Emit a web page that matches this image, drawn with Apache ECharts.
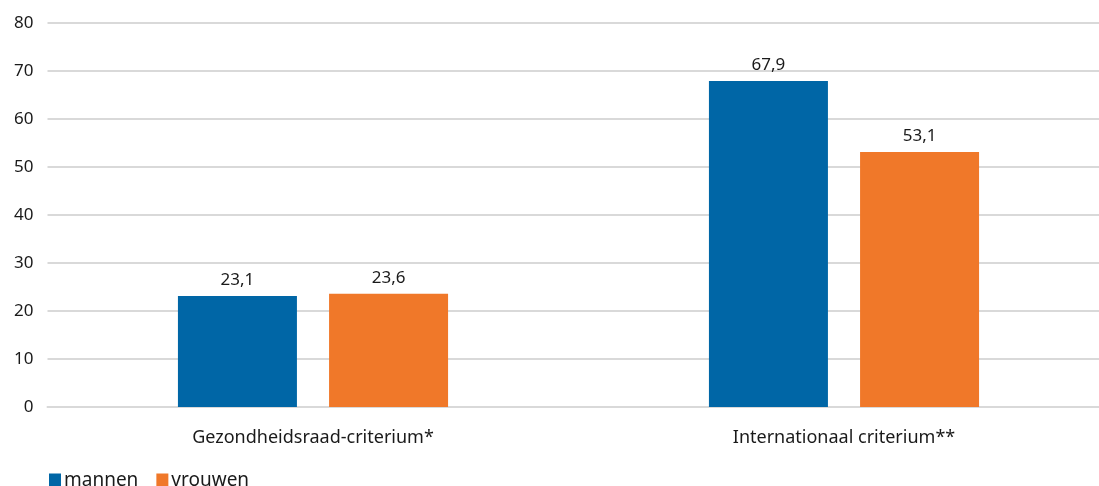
<!DOCTYPE html>
<html><head><meta charset="utf-8">
<script src="https://cdn.jsdelivr.net/npm/echarts@6/dist/echarts.min.js"></script>
<style>html,body{margin:0;padding:0;background:#fff;overflow:hidden;width:1099px;height:486px}#c{width:1130px;height:486px}</style>
</head><body><div id="c"></div>
<script>
const categories = ['Gezondheidsraad-criterium*', 'Internationaal criterium**'];
const mannen = [23.1, 67.9];
const vrouwen = [23.6, 53.1];
const seriesNames = ['mannen', 'vrouwen'];
const yTicks = [0, 10, 20, 30, 40, 50, 60, 70, 80];

const FONT = 'Noto Sans';
const chart = echarts.init(document.getElementById('c'), null, {renderer: 'canvas'});
const lbl = {show: true, position: 'top', distance: 7, color: '#1a1a1a', fontSize: 17, fontFamily: FONT,
  formatter: p => String(p.value).replace('.', ',')};
chart.setOption({
  animation: false,
  textStyle: {fontFamily: FONT},
  grid: {left: 47.5, top: 23, width: 1062, height: 384, containLabel: false},
  legend: {
    left: 44, top: 466, itemWidth: 12, itemHeight: 14, itemGap: 18, icon: 'rect',
    textStyle: {fontSize: 19, color: '#1a1a1a', fontFamily: FONT, padding: [0, 0, 0, -2]},
    data: seriesNames
  },
  xAxis: {
    type: 'category', data: categories,
    axisLine: {show: true, lineStyle: {color: '#d9d9d9', width: 2}},
    axisTick: {show: false},
    axisLabel: {color: '#1a1a1a', fontSize: 18, fontFamily: FONT, margin: 22}
  },
  yAxis: {
    type: 'value', min: yTicks[0], max: yTicks[yTicks.length - 1], interval: 10,
    axisLine: {show: false}, axisTick: {show: false},
    axisLabel: {color: '#1a1a1a', fontSize: 17, fontFamily: FONT, margin: 14},
    splitLine: {lineStyle: {color: '#d9d9d9', width: 2}}
  },
  series: [
    {name: seriesNames[0], type: 'bar', data: mannen, barWidth: 119, barGap: '27%',
     itemStyle: {color: '#0066a6'}, label: lbl},
    {name: seriesNames[1], type: 'bar', data: vrouwen, barWidth: 119,
     itemStyle: {color: '#f07829'}, label: lbl}
  ]
});
</script></body></html>
